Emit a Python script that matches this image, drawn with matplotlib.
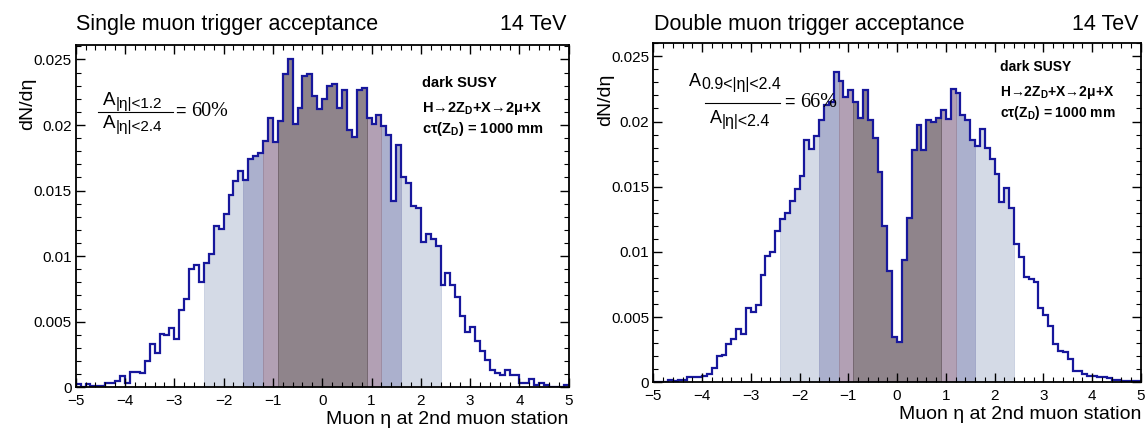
import numpy as np
import matplotlib
matplotlib.use('Agg')
import matplotlib.pyplot as plt
from matplotlib.lines import Line2D
from matplotlib.ticker import MultipleLocator

plt.rcParams['font.family'] = ['Liberation Sans', 'DejaVu Sans']
plt.rcParams['mathtext.fontset'] = 'custom'
plt.rcParams['mathtext.rm'] = 'Liberation Sans'
plt.rcParams['mathtext.bf'] = 'Liberation Sans:bold'
plt.rcParams['mathtext.it'] = 'Liberation Sans:italic'

# histogram binning: 100 bins in eta from -5 to 5
edges = np.linspace(-5, 5, 101)

# dN/deta, single muon trigger acceptance
single_mu = [
    0.00025, 0.00005, 0.00025, 0.0001, 0.0001, 0.0001, 0.0003, 0.0003, 0.0005, 0.00086,
    0.0003, 0.00114, 0.00114, 0.00106, 0.0020, 0.0033, 0.0026, 0.0041, 0.0040, 0.0045,
    0.0037, 0.0059, 0.0067, 0.0090, 0.0093, 0.0080, 0.0095, 0.0102, 0.0123, 0.0121,
    0.0132, 0.0147, 0.0157, 0.0165, 0.0158, 0.0174, 0.0176, 0.0179, 0.0188, 0.0205,
    0.0187, 0.0203, 0.0239, 0.0250, 0.0201, 0.0213, 0.0237, 0.0239, 0.0222, 0.0212,
    0.0220, 0.0230, 0.0231, 0.0213, 0.0227, 0.0196, 0.0191, 0.0227, 0.0228, 0.0205,
    0.0201, 0.0208, 0.0199, 0.0192, 0.0142, 0.0185, 0.0160, 0.0156, 0.0138, 0.0137,
    0.0111, 0.0117, 0.0113, 0.0108, 0.0078, 0.0087, 0.0078, 0.0069, 0.0054, 0.0042,
    0.0046, 0.0035, 0.0028, 0.0021, 0.0013, 0.0011, 0.0009, 0.0013, 0.0009, 0.0009,
    0.0003, 0.0003, 0.0006, 0.0002, 0.0003, 0.0002, 0.00005, 0.0, 0.00005, 0.0002,
]

# dN/deta, double muon trigger acceptance
double_mu = [
    0.00005, 0.0, 0.0, 0.0002, 0.0001, 0.0002, 0.0002, 0.0004, 0.0004, 0.0004,
    0.0005, 0.0006, 0.0011, 0.0020, 0.0021, 0.0029, 0.0033, 0.0041, 0.0037, 0.0057,
    0.0054, 0.0059, 0.0082, 0.0097, 0.0100, 0.0116, 0.0125, 0.0130, 0.0139, 0.0148,
    0.0158, 0.0186, 0.0179, 0.0189, 0.0201, 0.0213, 0.0215, 0.0238, 0.0231, 0.0219,
    0.0224, 0.0215, 0.0203, 0.0224, 0.0201, 0.0187, 0.0161, 0.0120, 0.0085, 0.0035,
    0.0031, 0.0094, 0.0126, 0.0178, 0.0197, 0.0178, 0.0201, 0.0200, 0.0203, 0.0209,
    0.0202, 0.0225, 0.0222, 0.0205, 0.0201, 0.0186, 0.0181, 0.0194, 0.0180, 0.0171,
    0.0160, 0.0138, 0.0149, 0.0134, 0.0106, 0.0096, 0.0081, 0.0079, 0.0077, 0.0057,
    0.0052, 0.0043, 0.0029, 0.0024, 0.0023, 0.0018, 0.0009, 0.0009, 0.0006, 0.0005,
    0.0005, 0.0004, 0.0004, 0.0003, 0.0002, 0.0002, 0.0001, 0.0001, 0.0001, 0.0001,
]

# |eta| acceptance cuts (outer to inner) and their fill colours
eta_cuts = [2.4, 1.6, 1.2, 0.9]
cut_colors = ['#d4dae6', '#abb0cd', '#b2a0b4', '#8f848b']
cut_edges = ['#c6cde0', '#9ea4c6', '#9c889e', '#6e6069']

ytick_vals = [0, 0.005, 0.01, 0.015, 0.02, 0.025]
ytick_text = ['0', '0.005', '0.01', '0.015', '0.02', '0.025']

W, H = 1146, 429
fig = plt.figure(figsize=(W / 100, H / 100), dpi=100)


def px(x, y):
    return x / W, 1 - y / H


def seq(x, y, parts):
    # write text pieces one after another, x,y in pixels from top-left
    r = fig.canvas.get_renderer()
    for text, size, dy, kw in parts:
        t = fig.text(*px(x, y + dy), text, fontsize=size, va='baseline', **kw)
        x = t.get_window_extent(r).x1
    return x


def draw_panel(ax, vals, ymax):
    vals = np.asarray(vals)
    for cut, col, ec in zip(eta_cuts, cut_colors, cut_edges):
        i0 = int(round((5 - cut) / 0.1))
        i1 = int(round((5 + cut) / 0.1))
        ax.stairs(vals[i0:i1], edges[i0:i1 + 1], fill=True, facecolor=col,
                  edgecolor=ec, linewidth=0.6)
    ax.stairs(vals, edges, color='#17179c', linewidth=1.6)
    ax.set_xlim(-5, 5)
    ax.set_ylim(0, ymax)
    ax.xaxis.set_major_locator(MultipleLocator(1))
    ax.xaxis.set_minor_locator(MultipleLocator(0.2))
    ax.set_yticks(ytick_vals)
    ax.set_yticklabels(ytick_text)
    ax.yaxis.set_minor_locator(MultipleLocator(0.001))
    ax.tick_params(which='both', direction='in', top=True, right=True,
                   labelsize=11, pad=3)
    ax.tick_params(axis='x', pad=5)
    ax.tick_params(which='major', length=6.5, width=1.0)
    ax.tick_params(which='minor', length=3.6, width=0.8)
    for sp in ax.spines.values():
        sp.set_linewidth(1.3)


ax1 = fig.add_axes([75.7 / W, (H - 387.3) / H, 493 / W, (387.3 - 45) / H])
ax2 = fig.add_axes([653.3 / W, (H - 382.3) / H, 487.5 / W, (382.3 - 43.3) / H])
draw_panel(ax1, single_mu, 0.0261)
draw_panel(ax2, double_mu, 0.0260)

# titles
fig.text(*px(76, 30), 'Single muon trigger acceptance', fontsize=15.5, va='baseline')
fig.text(*px(567, 30), '14 TeV', fontsize=15.5, va='baseline', ha='right')
fig.text(*px(654, 30), 'Double muon trigger acceptance', fontsize=15.5, va='baseline')
fig.text(*px(1139, 30), '14 TeV', fontsize=15.5, va='baseline', ha='right')

# axis labels
fig.text(*px(28, 78), 'dN/dη', rotation=90, ha='center', va='top', fontsize=14)
fig.text(*px(606, 74), 'dN/dη', rotation=90, ha='center', va='top', fontsize=14)
fig.text(*px(568.7, 424), 'Muon η at 2nd muon station', ha='right', va='baseline', fontsize=14)
fig.text(*px(1141, 419), 'Muon η at 2nd muon station', ha='right', va='baseline', fontsize=14)

# process labels
proc = ['dark SUSY', 'H→2Z$_{\\mathbf{D}}$+X→2μ+X', 'cτ(Z$_{\\mathbf{D}}$) = 1000 mm']
for txt, yy in zip(proc, [86.7, 112.3, 132.7]):
    fig.text(*px(422, yy), txt, fontsize=10.5, fontweight='bold', va='baseline')
for txt, yy in zip(proc, [70.7, 96, 116.7]):
    fig.text(*px(1000, yy), txt, fontsize=10, fontweight='bold', va='baseline')

# acceptance ratios
serif = {'family': 'Liberation Serif'}
seq(103, 105, [('A', 13.5, 0, {}), ('|η|<1.2', 11, 3, {})])
seq(103, 127.5, [('A', 13.5, 0, {}), ('|η|<2.4', 11, 3, {})])
fig.add_artist(Line2D([98 / W, 173 / W], [1 - 112 / H] * 2, color='k', lw=0.8))
seq(176, 116, [('= ', 13, 0, {}), ('60%', 14.5, 0, serif)])

seq(689, 86, [('A', 13, 0, {}), ('0.9<|η|<2.4', 11.5, 3, {})])
seq(710, 123, [('A', 13, 0, {}), ('|η|<2.4', 11.5, 3, {})])
fig.add_artist(Line2D([705 / W, 780 / W], [1 - 103 / H] * 2, color='k', lw=0.8))
seq(785, 107, [('= ', 13, 0, {}), ('66%', 14.5, 0, serif)])

fig.savefig('out.png', dpi=100)
